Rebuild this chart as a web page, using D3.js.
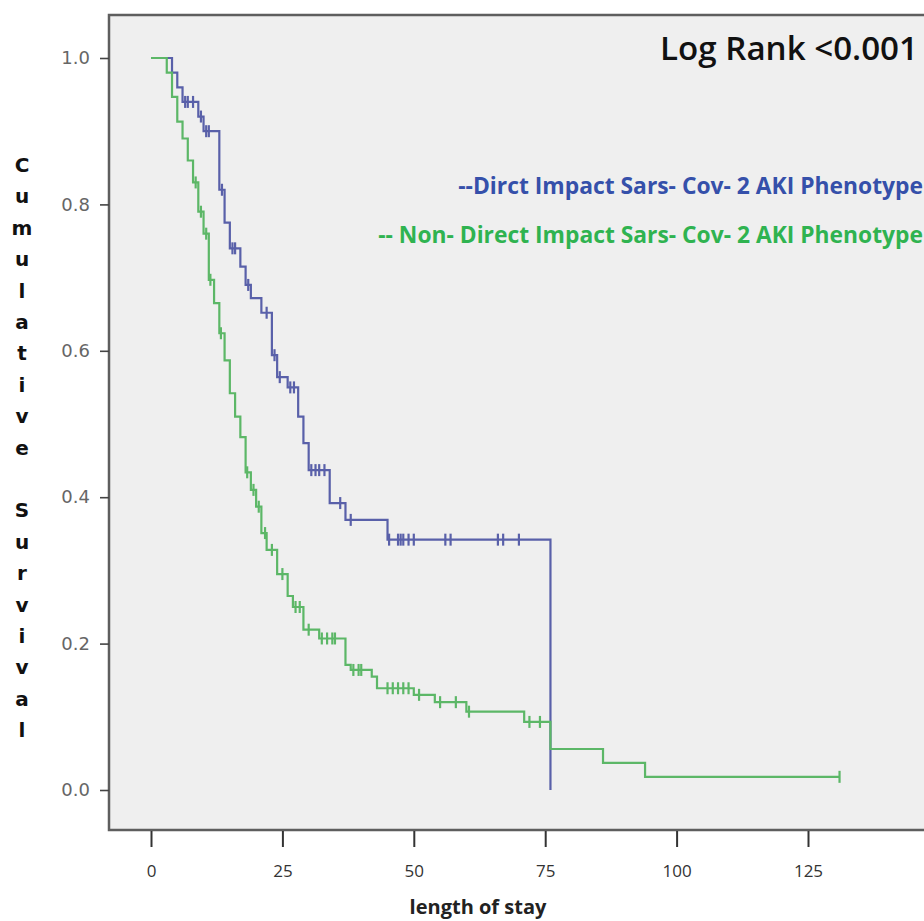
<!DOCTYPE html>
<html>
<head>
<meta charset="utf-8">
<script src="https://cdn.jsdelivr.net/npm/d3@7"></script>
<style>
body { margin: 0; background: #fff; }
svg { display: block; }
</style>
</head>
<body>
<svg id="km" width="924" height="921"></svg>
<script>
// Kaplan-Meier data (time = days, surv = survival after the event)
var blueTimes = [0, 4, 5, 6, 9, 10, 13, 14, 15, 17, 18, 19, 21, 23, 24, 26, 28, 29, 30, 34, 37, 45, 76];
var blueSurv  = [1, 0.98, 0.96, 0.94, 0.92, 0.90, 0.82, 0.775, 0.74, 0.715, 0.69, 0.672, 0.652, 0.594, 0.564, 0.55, 0.51, 0.474, 0.437, 0.392, 0.369, 0.342, 0];
var blueCensored = [6.5, 7, 8, 9.5, 10.5, 11, 13.5, 15.5, 16, 18.5, 22, 23.5, 24.5, 26.5, 27.2, 30.5, 31.3, 32, 33, 36, 38, 45.3, 47, 47.5, 48, 49, 50, 56, 57, 66, 67, 70];

var greenTimes = [0, 3, 4, 5, 6, 7, 8, 9, 10, 11, 12, 13, 14, 15, 16, 17, 18, 19, 20, 21, 22, 24, 26, 27, 29, 32, 37, 38, 42, 43, 50, 54, 60, 71, 76, 86, 94];
var greenSurv  = [1, 0.98, 0.947, 0.913, 0.89, 0.86, 0.83, 0.79, 0.76, 0.697, 0.665, 0.624, 0.587, 0.542, 0.51, 0.482, 0.434, 0.41, 0.387, 0.351, 0.328, 0.295, 0.265, 0.25, 0.219, 0.207, 0.171, 0.164, 0.155, 0.139, 0.13, 0.12, 0.107, 0.093, 0.056, 0.037, 0.018];
var greenCensored = [8.5, 9.5, 10.5, 11.3, 13.3, 18.3, 19.5, 20.5, 21.7, 23, 25, 27.5, 28.3, 30, 32.5, 33.5, 34.5, 35, 38.5, 39.5, 40, 45, 46, 47, 48, 49, 51, 55, 58, 60.5, 72, 74, 131];
var greenLastFollowUp = 131;

var xTicks = [0, 25, 50, 75, 100, 125];
var yTicks = [0, 0.2, 0.4, 0.6, 0.8, 1.0];

var yLabel = "Cumulative Survival";
var xLabel = "length of stay";
var logRankText = "Log Rank <0.001";
var blueName = "--Dirct Impact Sars- Cov- 2 AKI Phenotype";
var greenName = "-- Non- Direct Impact Sars- Cov- 2 AKI Phenotype";

var blueColor = "#5960a9";
var greenColor = "#5cb767";

var svg = d3.select("#km");

var x = d3.scaleLinear().domain([0, 125]).range([151, 808]);
var y = d3.scaleLinear().domain([0, 1]).range([790, 58]);

// plot area + frame
svg.append("rect")
   .attr("x", 109).attr("y", 15)
   .attr("width", 830).attr("height", 815)
   .attr("fill", "#efefef");

var frame = svg.append("path")
   .attr("d", "M940,15 H109 V830 H940")
   .attr("fill", "none")
   .attr("stroke", "#5e5e5e")
   .attr("stroke-width", 2.5);

// axes
const gY = svg.append("g").attr("transform", "translate(109,0)");
gY.call(d3.axisLeft(y)
          .tickValues(yTicks)
          .tickFormat(d3.format(".1f"))
          .tickSizeInner(9)
          .tickSizeOuter(0)
          .tickPadding(10));
gY.select(".domain").remove();
gY.selectAll("line").attr("stroke", "#444").attr("stroke-width", 1.6);
gY.selectAll("text")
  .attr("fill", "#666")
  .style("font-family", "'DejaVu Sans', sans-serif")
  .style("font-size", "18px");

const gX = svg.append("g").attr("transform", "translate(0,831)");
gX.call(d3.axisBottom(x)
          .tickValues(xTicks)
          .tickSizeInner(16)
          .tickSizeOuter(0)
          .tickPadding(18));
gX.select(".domain").remove();
gX.selectAll("line").attr("stroke", "#333").attr("stroke-width", 2);
gX.selectAll("text")
  .attr("fill", "#333")
  .style("font-family", "'Open Sans', sans-serif")
  .style("font-size", "17px");

// axis titles
svg.append("text")
   .attr("x", 478).attr("y", 914)
   .attr("text-anchor", "middle")
   .attr("fill", "#222")
   .style("font-family", "'Open Sans', sans-serif")
   .style("font-weight", "bold")
   .style("font-size", "20px")
   .text(xLabel);

var letters = yLabel.split("");
svg.append("g").selectAll("text")
   .data(letters)
   .enter()
   .append("text")
   .attr("x", 22)
   .attr("y", (d, i) => 165 + i * 31.4)
   .attr("dy", "0.35em")
   .attr("text-anchor", "middle")
   .attr("fill", "#111")
   .style("font-family", "'DejaVu Sans', sans-serif")
   .style("font-weight", "bold")
   .style("font-size", "20px")
   .text(d => d);

// step curves
function toPoints(times, surv, lastT) {
    var pts = times.map((t, i) => [t, surv[i]]);
    if (lastT != null) pts.push([lastT, surv[surv.length - 1]]);
    return pts;
}

function survAt(times, surv, t) {
    var s = surv[0];
    for (var i = 0; i < times.length; i++) {
        if (times[i] <= t) s = surv[i];
    }
    return s;
}

var line = d3.line()
             .x(d => x(d[0]))
             .y(d => y(d[1]))
             .curve(d3.curveStepAfter);

var groups = [
    {times: blueTimes, surv: blueSurv, cens: blueCensored, last: null, color: blueColor},
    {times: greenTimes, surv: greenSurv, cens: greenCensored, last: greenLastFollowUp, color: greenColor}
];

groups.forEach(g => {
    svg.append("path")
       .datum(toPoints(g.times, g.surv, g.last))
       .attr("d", line)
       .attr("fill", "none")
       .attr("stroke", g.color)
       .attr("stroke-width", 2.2);

    svg.append("g").selectAll("line")
       .data(g.cens)
       .enter()
       .append("line")
       .attr("x1", d => x(d))
       .attr("x2", d => x(d))
       .attr("y1", d => y(survAt(g.times, g.surv, d)) - 6)
       .attr("y2", d => y(survAt(g.times, g.surv, d)) + 6)
       .attr("stroke", g.color)
       .attr("stroke-width", 2.2);
});

// texts in the plot, sized to the widths in the picture
function fitText(sel, width) {
    var w = sel.node().getComputedTextLength();
    var fs = parseFloat(sel.style("font-size"));
    sel.style("font-size", (fs * width / w).toFixed(2) + "px");
}

var lr = svg.append("text")
   .attr("x", 918).attr("y", 60)
   .attr("text-anchor", "end")
   .attr("fill", "#111")
   .style("font-family", "'Open Sans', sans-serif")
   .style("font-weight", "600")
   .style("font-size", "28px")
   .text(logRankText);
fitText(lr, 258);

var lb = svg.append("text")
   .attr("x", 923).attr("y", 194)
   .attr("text-anchor", "end")
   .attr("fill", "#3550aa")
   .style("font-family", "'Open Sans', sans-serif")
   .style("font-weight", "bold")
   .style("font-size", "18px")
   .text(blueName);
fitText(lb, 465);

var lg = svg.append("text")
   .attr("x", 923).attr("y", 243)
   .attr("text-anchor", "end")
   .attr("fill", "#2fb350")
   .style("font-family", "'Open Sans', sans-serif")
   .style("font-weight", "bold")
   .style("font-size", "18px")
   .text(greenName);
fitText(lg, 545);
</script>
</body>
</html>
